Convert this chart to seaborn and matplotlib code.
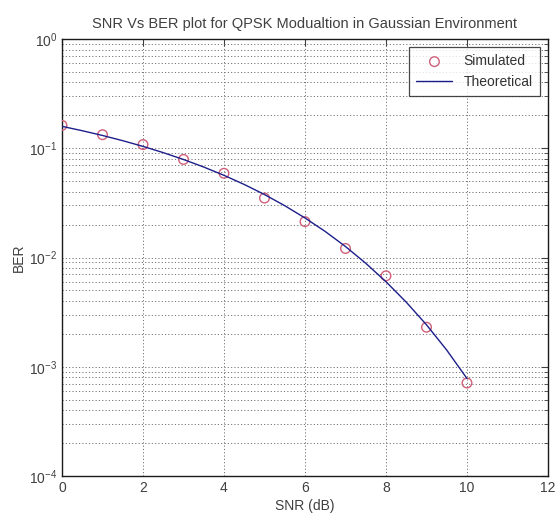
import numpy as np
import pandas as pd
import matplotlib
matplotlib.use("Agg")
import matplotlib.pyplot as plt
import seaborn as sns
from matplotlib.ticker import LogLocator, FixedLocator

snr_sim = [0, 1, 2, 3, 4, 5, 6, 7, 8, 9, 10]
ber_sim = [0.162, 0.133, 0.108, 0.079, 0.059, 0.035, 0.0213, 0.0121, 0.0068, 0.0023, 0.00071]
snr_theory = [0, 0.5, 1, 1.5, 2, 2.5, 3, 3.5, 4, 4.5, 5, 5.5, 6, 6.5, 7, 7.5, 8, 8.5, 9, 9.5, 10]
ber_theory = [0.1587, 0.1447, 0.1309, 0.1173, 0.1040, 0.0912, 0.0789, 0.0673, 0.0565,
              0.0466, 0.0377, 0.0298, 0.0230, 0.0173, 0.0126, 0.00886, 0.0060, 0.0039,
              0.00242, 0.00142, 0.00078]
x_ticks = [0, 2, 4, 6, 8, 10, 12]

sns.set_style("white")
plt.rcParams['font.family'] = ['Liberation Sans', 'DejaVu Sans']
plt.rcParams['mathtext.fontset'] = 'custom'
plt.rcParams['mathtext.rm'] = 'Liberation Sans'
plt.rcParams['mathtext.it'] = 'Liberation Sans'

fig = plt.figure(figsize=(5.6, 5.22), dpi=100)
ax = fig.add_axes([62/560, 1-476/522, (548-62)/560, (476-39)/522])

df_sim = pd.DataFrame({"SNR": snr_sim, "BER": ber_sim})
df_th = pd.DataFrame({"SNR": snr_theory, "BER": ber_theory})

sns.scatterplot(data=df_sim, x="SNR", y="BER", ax=ax, marker="o", s=48,
                facecolor="none", edgecolor="#d0607a", linewidth=1.0,
                label="Simulated", zorder=3)
sns.lineplot(data=df_th, x="SNR", y="BER", ax=ax, color="#1c1f8a",
             linewidth=1.0, label="Theoretical", zorder=4)

ax.set_yscale("log")
ax.set_xlim(0, 12)
ax.set_ylim(1e-4, 1)
ax.xaxis.set_major_locator(FixedLocator(x_ticks))
ax.yaxis.set_major_locator(LogLocator(base=10, numticks=10))
ax.yaxis.set_minor_locator(LogLocator(base=10, subs=np.arange(2, 10), numticks=20))

ax.grid(True, which="major", color="0.45", linestyle=(0, (1.2, 2.2)), linewidth=0.7)
ax.grid(True, which="minor", axis="y", color="0.45", linestyle=(0, (1.2, 2.2)), linewidth=0.7)

ax.tick_params(which="both", direction="in", top=True, right=True, labelsize=10, colors="0.25")
ax.tick_params(which="major", length=5, width=0.8)
ax.tick_params(which="minor", length=3, width=0.6)
for sp in ax.spines.values():
    sp.set_color("0.1")
    sp.set_linewidth(1.0)

ax.set_xlabel("SNR (dB)", fontsize=10, color="0.25", labelpad=3)
ax.set_ylabel("BER", fontsize=10, color="0.25", labelpad=2)
ax.set_title("SNR Vs BER plot for QPSK Modualtion in Gaussian Environment",
             fontsize=10.5, color="0.25", pad=8)

leg = ax.legend(loc="upper right", frameon=True, fancybox=False, fontsize=10,
                borderaxespad=0.6, handlelength=2.6, labelspacing=0.5, borderpad=0.5)
leg.get_frame().set_edgecolor("0.1")
leg.get_frame().set_linewidth(0.9)
for t in leg.get_texts():
    t.set_color("0.2")

fig.savefig("out.png", dpi=100)
